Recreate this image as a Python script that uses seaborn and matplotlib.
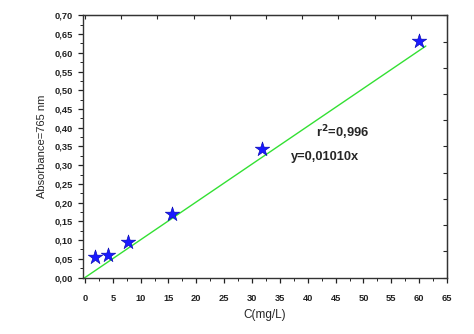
import numpy as np
import pandas as pd
import matplotlib
matplotlib.use("Agg")
import matplotlib.pyplot as plt
from matplotlib.ticker import MultipleLocator, FixedLocator, FuncFormatter
import seaborn as sns

conc = [1.8, 4.2, 7.7, 15.7, 31.8, 60.0]
absorb = [0.054, 0.059, 0.094, 0.170, 0.343, 0.632]
slope = 0.01010
fit_x = [-0.4, 61.2]
r2_text = "r$^{\\mathbf{2}}$=0,996"
eq_text = "y=0,01010x"
xlabel = "C(mg/L)"
ylabel = "Absorbance=765 nm"

sns.set_style("ticks")
plt.rcParams['font.family'] = ['Liberation Sans', 'DejaVu Sans']

fig = plt.figure(figsize=(4.74, 3.34), dpi=100)
ax = fig.add_axes([0.175, 0.169, 0.768, 0.785])

fit_df = pd.DataFrame({"x": fit_x, "y": [slope * v for v in fit_x]})
sns.lineplot(data=fit_df, x="x", y="y", ax=ax, color="#33e033", linewidth=1.0)
pts = pd.DataFrame({"x": conc, "y": absorb})
sns.scatterplot(data=pts, x="x", y="y", ax=ax, marker="*", s=120,
                color="#1a1aff", edgecolor="#0000aa", linewidth=0.4, zorder=5)

ax.set_xlim(-0.36, 65)
ax.set_ylim(0, 0.70)
ax.xaxis.set_major_locator(MultipleLocator(5))
ax.xaxis.set_minor_locator(MultipleLocator(2.5))
ax.yaxis.set_major_locator(MultipleLocator(0.05))
ax.yaxis.set_minor_locator(MultipleLocator(0.025))
ax.xaxis.set_major_formatter(FuncFormatter(lambda v, p: f"{v:.0f}"))
ax.yaxis.set_major_formatter(FuncFormatter(lambda v, p: f"{v:.2f}".replace(".", ",")))
ax.tick_params(axis="both", which="major", direction="out", length=3.5, width=0.9,
               labelsize=6.7, colors="#222222")
ax.tick_params(axis="both", which="minor", direction="out", length=2, width=0.7)
ax.tick_params(axis="x", pad=8)
for lbl in ax.get_xticklabels() + ax.get_yticklabels():
    lbl.set_fontweight("bold")

for s in ax.spines.values():
    s.set_visible(True)
    s.set_linewidth(1.0)
    s.set_color("#333333")

sec_x = ax.secondary_xaxis("top")
sec_x.xaxis.set_major_locator(FixedLocator(np.arange(0, 65.1, 6.5)))
sec_x.tick_params(direction="in", length=3, width=0.8, labeltop=False)
sec_y = ax.secondary_yaxis("right")
sec_y.yaxis.set_major_locator(FixedLocator(np.arange(0, 0.701, 0.07)))
sec_y.tick_params(direction="in", length=3, width=0.8, labelright=False)

ax.set_xlabel(xlabel, fontsize=8.5, labelpad=5)
ax.set_ylabel(ylabel, fontsize=8, labelpad=6)

ax.text(41.5, 0.387, r2_text, fontsize=9.3, fontweight="bold", ha="left", va="center")
ax.text(37.0, 0.322, eq_text, fontsize=9.3, fontweight="bold", ha="left", va="center")

fig.savefig("out.png", dpi=100)
